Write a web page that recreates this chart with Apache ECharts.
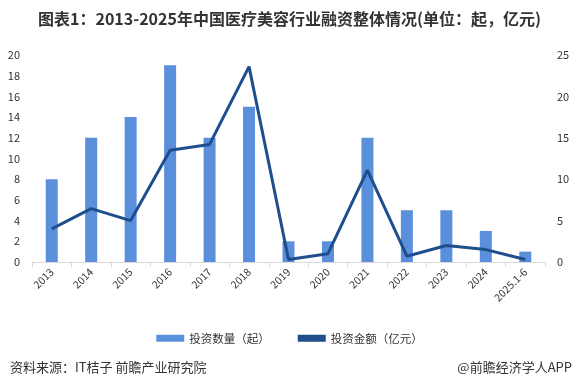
<!DOCTYPE html>
<html><head><meta charset="utf-8">
<script src="https://cdn.jsdelivr.net/npm/echarts@6/dist/echarts.min.js"></script>
<style>html,body{margin:0;padding:0;background:#fff}#c{width:579px;height:386px}</style>
</head><body><div id="c"></div>
<script>
const categories = ['2013','2014','2015','2016','2017','2018','2019','2020','2021','2022','2023','2024','2025.1-6'];
const countValues = [8,12,14,19,12,15,2,2,12,5,5,3,1];
const amountValues = [4.0,6.45,5.0,13.5,14.2,23.6,0.3,1.0,11.1,0.7,2.0,1.5,0.3];
const leftTicks = {min:0,max:20,interval:2};
const rightTicks = {min:0,max:25,interval:5};
const font = '"Noto Sans CJK SC","Noto Sans",sans-serif';
const chart = echarts.init(document.getElementById('c'));
chart.setOption({
  animation:false,
  textStyle:{fontFamily:font},
  title:[
    {text:'图表1：2013-2025年中国医疗美容行业融资整体情况(单位：起，亿元)',left:'center',top:6,
     textStyle:{fontSize:16,fontWeight:'bold',color:'#333',fontFamily:font}},
    {text:'资料来源：IT桔子 前瞻产业研究院',left:5,top:356,textStyle:{fontSize:13,fontWeight:'normal',color:'#333',fontFamily:font}},
    {text:'@前瞻经济学人APP',right:2,top:356,textStyle:{fontSize:13,fontWeight:'normal',color:'#333',fontFamily:font}}
  ],
  legend:{bottom:37,left:'center',itemGap:28,itemWidth:28,itemHeight:7,itemStyle:{borderWidth:0},
    textStyle:{fontSize:11.5,color:'#333'},
    data:[{name:'投资数量（起）',icon:'rect'},{name:'投资金额（亿元）',icon:'rect'}]},
  grid:{left:32,right:34,top:55,bottom:124},
  xAxis:{type:'category',data:categories,
    axisLine:{lineStyle:{color:'#d9d9d9'}},axisTick:{show:true,alignWithLabel:false,lineStyle:{color:'#d9d9d9'}},
    axisLabel:{rotate:45,fontSize:10.5,color:'#333',interval:0,margin:8}},
  yAxis:[
    {type:'value',min:leftTicks.min,max:leftTicks.max,interval:leftTicks.interval,splitLine:{show:false},
     axisLabel:{fontSize:11,color:'#333',margin:12}},
    {type:'value',min:rightTicks.min,max:rightTicks.max,interval:rightTicks.interval,splitLine:{show:false},
     axisLabel:{fontSize:11,color:'#333',margin:12}}
  ],
  series:[
    {name:'投资数量（起）',type:'bar',data:countValues,barWidth:12,itemStyle:{color:'#5A8FDC'}},
    {name:'投资金额（亿元）',type:'line',yAxisIndex:1,data:amountValues,symbol:'none',
     lineStyle:{color:'#1F4E8C',width:3},itemStyle:{color:'#1F4E8C'}}
  ]
});
</script></body></html>
